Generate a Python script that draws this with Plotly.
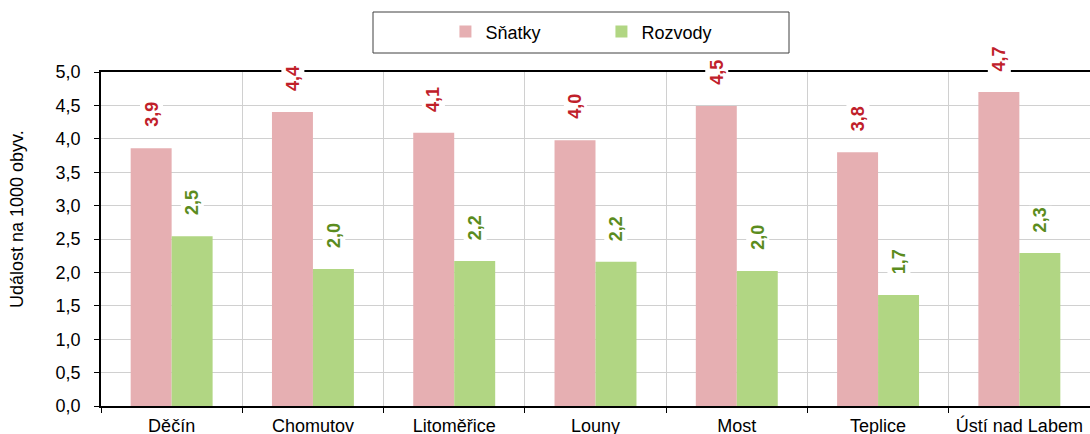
import plotly.graph_objects as go

categories = ["Děčín", "Chomutov", "Litoměřice", "Louny", "Most", "Teplice", "Ústí nad Labem"]
snatky = [3.86, 4.40, 4.09, 3.98, 4.49, 3.80, 4.70]
rozvody = [2.54, 2.05, 2.17, 2.16, 2.02, 1.66, 2.29]
y_ticks = [0, 0.5, 1.0, 1.5, 2.0, 2.5, 3.0, 3.5, 4.0, 4.5, 5.0]
y_title = "Událost na 1000 obyv."

PINK = "#E6AFB2"
GREEN = "#B1D683"
RED_TXT = "#C0202A"
GREEN_TXT = "#5B8C1E"
FONT = "Liberation Sans, Arial"

W, H = 1090, 434
ML, MR, MT, MB = 101, 0, 72, 28
BARGAP = 0.42
plot_w = W - ML - MR
plot_h = H - MT - MB
cat_px = plot_w / len(categories)
bar_px = cat_px * (1 - BARGAP) / 2

fig = go.Figure()
fig.add_trace(go.Bar(name="Sňatky", x=categories, y=snatky, marker=dict(color=PINK, line=dict(width=0))))
fig.add_trace(go.Bar(name="Rozvody", x=categories, y=rozvody, marker=dict(color=GREEN, line=dict(width=0))))

def fmt(v):
    return f"{v:.1f}".replace(".", ",")

annotations = []
for series, color, sign in ((snatky, RED_TXT, -1), (rozvody, GREEN_TXT, 1)):
    for c, v in zip(categories, series):
        annotations.append(dict(
            x=c, y=v, xref="x", yref="y", text=fmt(v), showarrow=False,
            textangle=-90, xanchor="center", yanchor="bottom",
            xshift=sign * bar_px / 2, yshift=19,
            font=dict(family=FONT, size=18, color=color, weight="bold"),
            bgcolor="white", borderpad=1,
        ))

annotations.append(dict(
    x=(17 - ML) / plot_w, y=(H - MB - 219) / plot_h, xref="paper", yref="paper",
    text=y_title, showarrow=False, textangle=-90, xanchor="center", yanchor="middle",
    font=dict(family=FONT, size=18, color="black"),
))

fig.update_layout(
    width=W, height=H,
    margin=dict(l=ML, r=MR, t=MT, b=MB, autoexpand=False),
    paper_bgcolor="white", plot_bgcolor="white",
    barmode="group", bargap=BARGAP, bargroupgap=0,
    separators=", ",
    font=dict(family=FONT, size=18, color="black"),
    showlegend=True,
    legend=dict(orientation="h", x=0.506, xanchor="center", y=1.12, yanchor="middle",
                font=dict(size=18), entrywidth=111, entrywidthmode="pixels",
                bgcolor="rgba(0,0,0,0)", borderwidth=0, itemclick=False),
    annotations=annotations,
    shapes=[dict(type="rect", xref="paper", yref="paper",
                 x0=(373 - ML) / plot_w, x1=(789 - ML) / plot_w,
                 y0=(H - MB - 53) / plot_h, y1=(H - MB - 12) / plot_h,
                 line=dict(color="#404040", width=1), fillcolor="rgba(0,0,0,0)", layer="above")],
)
fig.update_xaxes(
    type="category", tickson="boundaries", showgrid=True, gridcolor="#D0D0D0", gridwidth=1,
    showline=True, linecolor="black", linewidth=1.5, mirror=True, automargin=False,
    ticks="outside", ticklen=5, tickcolor="black", tickfont=dict(size=18),
    ticklabelstandoff=3,
)
fig.update_yaxes(
    range=[0, 5], tickvals=y_ticks, tickformat=".1f", showgrid=True, gridcolor="#D0D0D0", gridwidth=1,
    showline=True, linecolor="black", linewidth=1.5, zeroline=False, automargin=False,
    ticks="outside", ticklen=5, tickcolor="black", tickfont=dict(size=18),
    ticklabelstandoff=10,
)

fig.write_html(
    "out.html",
    config={"displayModeBar": False},
    post_script="document.body.style.margin='0';document.body.style.overflow='hidden';",
)
